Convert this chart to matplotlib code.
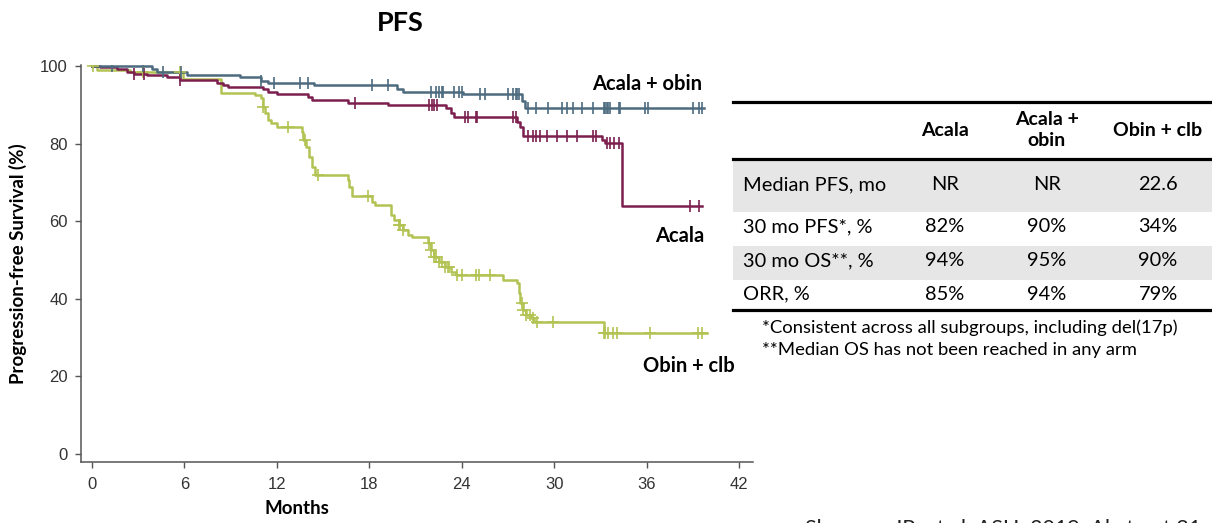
import numpy as np
import matplotlib
matplotlib.use("Agg")
import matplotlib.pyplot as plt
from matplotlib.patches import Rectangle

# Kaplan-Meier step data (months, % progression-free)
obin_t = [0, 3.9, 4.2, 6.2, 9.6, 11.0, 11.4, 14.4, 19.8, 20.2, 24.1, 27.9, 28.1]
obin_s = [100, 99.2, 98.5, 97.7, 97.1, 96.2, 95.7, 95.1, 94.0, 93.4, 92.8, 91.0, 89.1]
obin_end = 39.7
obin_cens = [1.3, 3.3, 4.6, 5.8, 11.0, 11.8, 13.5, 14.0, 18.2, 19.2, 22.0, 22.3, 22.5,
             22.7, 22.8, 23.5, 23.8, 24.0, 25.2, 25.5, 27.0, 27.3, 27.5, 27.6, 27.7,
             28.3, 28.8, 29.6, 30.5, 30.8, 31.2, 31.8, 32.5, 33.2, 33.3, 33.4, 33.5,
             33.6, 34.2, 34.3, 35.9, 36.1, 39.0, 39.4, 39.6]

acala_t = [0, 0.5, 1.6, 2.3, 2.7, 3.6, 4.9, 5.7, 8.1, 8.5, 8.8, 11.1, 11.4, 12.0, 14.0,
           14.3, 16.6, 19.2, 23.0, 23.3, 23.5, 27.6, 27.8, 28.0, 33.1, 33.3, 34.4]
acala_s = [100, 99.7, 99.2, 98.5, 98.1, 97.7, 97.2, 96.4, 95.7, 95.1, 94.5, 94.0, 93.4,
           92.8, 92.1, 91.2, 90.5, 89.9, 89.2, 88.0, 86.9, 85.6, 84.4, 82.0, 80.9, 80.1, 64.0]
acala_end = 39.6
acala_cens = [2.7, 3.4, 5.7, 17.1, 21.9, 22.1, 22.2, 22.4, 24.2, 24.4, 24.9, 25.0, 27.3,
              27.5, 28.3, 28.6, 28.8, 29.1, 29.5, 30.2, 30.8, 31.5, 32.5, 32.7, 33.4,
              33.6, 33.9, 34.2, 38.8, 39.4]

clb_t = [0, 0.3, 2.5, 5.9, 8.4, 10.6, 11.0, 11.1, 11.2, 11.4, 11.6, 12.0, 13.6, 13.7,
         13.9, 14.1, 14.3, 14.5, 16.6, 16.7, 16.9, 18.2, 18.4, 19.4, 19.6, 19.9, 20.2,
         20.5, 20.8, 21.8, 22.0, 22.2, 22.5, 22.9, 23.3, 23.6, 26.7, 27.6, 27.7, 27.8,
         28.0, 28.2, 28.5, 28.7, 33.2]
clb_s = [100, 99.0, 98.5, 96.8, 93.1, 92.5, 91.7, 89.5, 87.8, 86.1, 85.3, 84.4, 83.1,
         80.9, 79.2, 76.6, 74.0, 71.9, 70.6, 68.9, 66.5, 65.0, 64.2, 61.6, 60.3, 59.0,
         57.7, 56.4, 55.9, 54.4, 52.6, 50.9, 49.6, 48.3, 47.0, 46.1, 44.8, 44.0, 41.5,
         38.9, 37.1, 35.8, 35.1, 34.1, 31.3]
clb_end = 39.9
clb_cens = [0.1, 3.3, 5.7, 11.1, 12.7, 13.8, 14.7, 17.9, 19.9, 20.0, 20.2, 21.9, 22.0,
            22.2, 22.3, 22.5, 22.7, 22.9, 23.1, 23.2, 23.7, 24.0, 24.9, 25.1, 25.8,
            27.9, 28.0, 28.2, 28.4, 28.6, 28.9, 29.9, 33.2, 33.3, 33.5, 33.8, 34.1,
            36.2, 39.3, 39.6]

x_ticks = [0, 6, 12, 18, 24, 30, 36, 42]
y_ticks = [0, 20, 40, 60, 80, 100]

# table content
col_heads = ["Acala", "Acala +\nobin", "Obin + clb"]
row_heads = ["Median PFS, mo", "30 mo PFS*, %", "30 mo OS**, %", "ORR, %"]
cells = [["NR", "NR", "22.6"],
         ["82%", "90%", "34%"],
         ["94%", "95%", "90%"],
         ["85%", "94%", "79%"]]
notes = ["*Consistent across all subgroups, including del(17p)",
         "**Median OS has not been reached in any arm"]

c_obin = "#4d6b7f"
c_acala = "#7c1f4e"
c_clb = "#b3c353"

plt.rcParams["font.family"] = ["Lato", "DejaVu Sans"]
W, H = 1212, 523
fig = plt.figure(figsize=(W / 100, H / 100), dpi=100)
fig.patch.set_facecolor("white")

ax = fig.add_axes([81 / W, 1 - 462 / H, (753 - 81) / W, (462 - 65) / H])
ax.set_xlim(-0.71, 42.9)
ax.set_ylim(-2.06, 100.3)


def km(t, s, end, cens, color, marker, ms):
    t = np.array(t + [end])
    s = np.array(s + [s[-1]])
    ax.step(t, s, where="post", color=color, lw=1.8, zorder=3)
    c = np.array(cens)
    idx = np.searchsorted(t[:-1], c, side="right") - 1
    ax.plot(c, s[idx], ls="none", marker=marker, ms=ms, mew=1.2, color=color, zorder=4)


km(clb_t, clb_s, clb_end, clb_cens, c_clb, "+", 9)
km(acala_t, acala_s, acala_end, acala_cens, c_acala, "|", 8)
km(obin_t, obin_s, obin_end, obin_cens, c_obin, "|", 8)

for sp in ["top", "right"]:
    ax.spines[sp].set_visible(False)
for sp in ["left", "bottom"]:
    ax.spines[sp].set_color("#555555")
    ax.spines[sp].set_linewidth(1.1)
ax.set_xticks(x_ticks)
ax.set_yticks(y_ticks)
ax.tick_params(colors="#555555", labelcolor="#333333", length=4.5, width=1,
               labelsize=12)
ax.tick_params(axis="y", pad=5)
ax.tick_params(axis="x", pad=6)
for lab in ax.get_xticklabels() + ax.get_yticklabels():
    lab.set_family(["Liberation Sans Narrow", "Liberation Sans"])

# overlay axes in pixel units for texts and table
ov = fig.add_axes([0, 0, 1, 1], facecolor="none")
ov.set_xlim(0, W)
ov.set_ylim(H, 0)
ov.axis("off")

ov.text(400, 23, "PFS", ha="center", va="center", fontsize=19.5, weight="bold")
ov.text(18, 264, "Progression-free Survival (%)", rotation=90, ha="center",
        va="center", fontsize=13.5, weight="bold")
ov.text(297, 509, "Months", ha="center", va="center", fontsize=13.5, weight="bold")
ov.text(647, 84, "Acala + obin", ha="center", va="center", fontsize=14.5, weight="bold")
ov.text(680, 236, "Acala", ha="center", va="center", fontsize=14.5, weight="bold")
ov.text(689, 366, "Obin + clb", ha="center", va="center", fontsize=14.5, weight="bold")

# table
tx0, tx1 = 733, W
band_rows = [(159, 212), (246, 280)]
for y0, y1 in band_rows:
    ov.add_patch(Rectangle((tx0, y0), tx1 - tx0, y1 - y0, facecolor="#e6e6e6",
                           edgecolor="none", zorder=1))
for yl in [102, 159, 310]:
    ov.plot([tx0, tx1], [yl, yl], color="black", lw=2.3, zorder=2)

col_x = [945, 1047, 1158]
row_y = [185, 227, 261, 294]
for cx, head in zip(col_x, col_heads):
    ov.text(cx, 130, head, ha="center", va="center", fontsize=14, weight="bold",
            linespacing=1.25)
for ry, rh, vals in zip(row_y, row_heads, cells):
    ov.text(743, ry, rh, ha="left", va="center", fontsize=14.4)
    for cx, v in zip(col_x, vals):
        ov.text(cx, ry, v, ha="center", va="center", fontsize=14.4)

for i, n in enumerate(notes):
    ov.text(762, 328 + 22 * i, n, ha="left", va="center", fontsize=13.3)

ov.text(805, 518, "Sharman JP, et al. ASH. 2019. Abstract 31", ha="left", va="top",
        fontsize=15.5, color="#222222")

fig.savefig("out.png", dpi=100, facecolor="white")
